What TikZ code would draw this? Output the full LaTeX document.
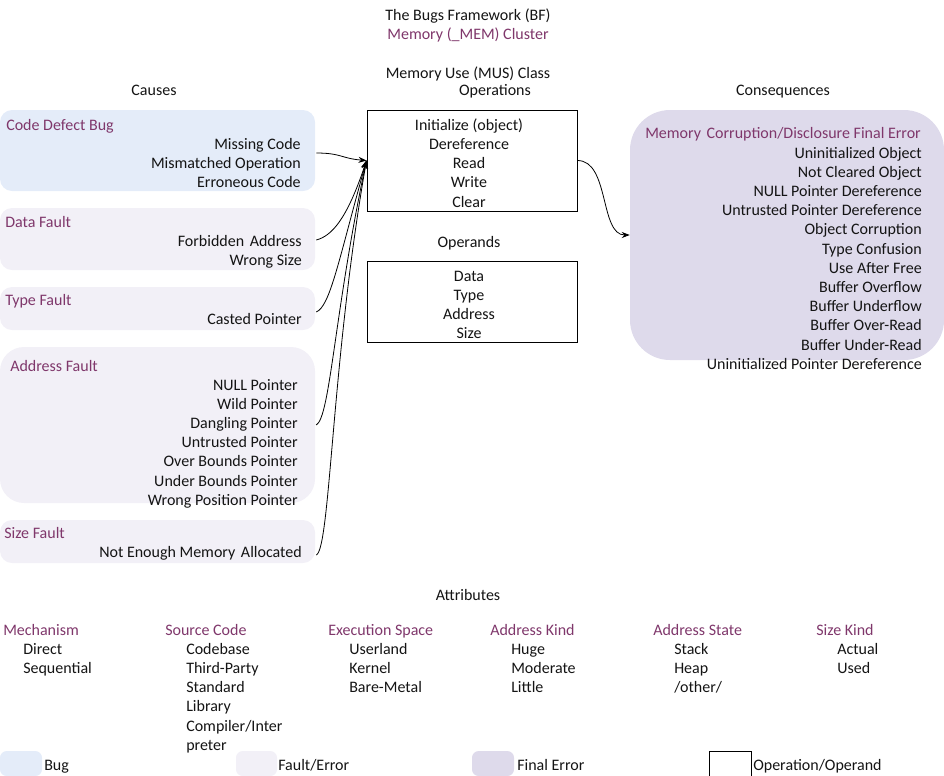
\documentclass[tikz,border=0pt]{standalone}
\usepackage{fontspec}
\setmainfont{Carlito}
\usetikzlibrary{arrows.meta,fit,calc}
\definecolor{bugfill}{RGB}{228,236,249}
\definecolor{faultfill}{RGB}{242,240,247}
\definecolor{finalfill}{RGB}{222,218,235}
\definecolor{plum}{RGB}{127,55,107}
\definecolor{ink}{RGB}{20,20,20}
\newcommand{\widegap}{\hspace{1.5pt} }
\begin{document}
\begin{tikzpicture}[x=0.75pt,y=-0.75pt,
  lbl/.style={inner sep=0pt, text=ink, font=\fontsize{12}{14.25}\selectfont},
  head/.style={lbl, text=plum},
  bugbox/.style={fill=bugfill, draw=none, inner sep=0pt, rounded corners=9pt},
  faultbox/.style={fill=faultfill, draw=none, inner sep=0pt, rounded corners=9pt},
  finalbox/.style={fill=finalfill, draw=none, inner sep=0pt, rounded corners=30pt},
  opbox/.style={draw=black, fill=white, inner sep=0pt, line width=0.75pt},
  link/.style={draw=black, line width=0.6pt, -{Stealth[length=6pt,width=4.5pt]}},
]
\useasboundingbox (0,0) rectangle (944,775);

% headings
\node[lbl, anchor=base] (title) at (468,20) {The Bugs Framework (BF)};
\node[head, anchor=base] (cluster) at (468,39) {Memory (\_MEM) Cluster};
\node[lbl, anchor=base] (class) at (468,78) {Memory Use (MUS) Class};
\node[lbl, anchor=base] (opshead) at (495,95) {Operations};
\node[lbl, anchor=base] (causes) at (154,95) {Causes};
\node[lbl, anchor=base] (conshead) at (783,95) {Consequences};

% causes
\node[bugbox, fit={(0,110) (315,191)}] (cd) {};
\node[head, anchor=base west] (cdh) at (6,130) {Code Defect Bug};
\foreach \t [count=\i] in {Missing Code, Mismatched Operation, Erroneous Code}
  \node[lbl, anchor=base east] (cd\i) at (301,{149+19.3*(\i-1)}) {\t};

\node[faultbox, fit={(0,208) (315,270)}] (df) {};
\node[head, anchor=base west] (dfh) at (5,227) {Data Fault};
\foreach \t [count=\i] in {Forbidden\widegap Address, Wrong Size}
  \node[lbl, anchor=base east] (df\i) at (302,{246+19.3*(\i-1)}) {\t};

\node[faultbox, fit={(0,287) (315,330)}] (tf) {};
\node[head, anchor=base west] (tfh) at (5,305) {Type Fault};
\node[lbl, anchor=base east] (tf1) at (302,324) {Casted Pointer};

\node[faultbox, rounded corners=18pt, fit={(0,347) (315,503)}] (af) {};
\node[head, anchor=base west] (afh) at (10,371) {Address Fault};
\foreach \t [count=\i] in {NULL Pointer, Wild Pointer, Dangling Pointer, Untrusted Pointer,
    Over Bounds Pointer, Under Bounds Pointer, Wrong Position Pointer}
  \node[lbl, anchor=base east] (af\i) at (298,{390+19.2*(\i-1)}) {\t};

\node[faultbox, fit={(0,520) (315,563)}] (sf) {};
\node[head, anchor=base west] (sfh) at (4,538) {Size Fault};
\node[lbl, anchor=base east] (sf1) at (302,557) {Not Enough Memory\widegap Allocated};

% operations and operands
\node[opbox, fit={(367,110) (577,211)}] (ops) {};
\foreach \t [count=\i] in {Initialize (object), Dereference, Read, Write, Clear}
  \node[lbl, anchor=base] (op\i) at (469,{130+19.3*(\i-1)}) {\t};
\node[lbl, anchor=base] (opdhead) at (469,247) {Operands};
\node[opbox, fit={(367,261) (577,342)}] (opd) {};
\foreach \t [count=\i] in {Data, Type, Address, Size}
  \node[lbl, anchor=base] (opd\i) at (469,{281+19.3*(\i-1)}) {\t};

% consequences
\node[finalbox, fit={(630,110) (944,360)}] (cons) {};
\node[head, anchor=base west] (consh) at (645,138) {Memory\widegap Corruption/Disclosure Final Error};
\foreach \t [count=\i] in {Uninitialized Object, Not Cleared Object, NULL Pointer Dereference,
    Untrusted Pointer Dereference, Object Corruption, Type Confusion, Use After Free,
    Buffer Overflow, Buffer Underflow, Buffer Over-Read, Buffer Under-Read,
    Uninitialized Pointer Dereference}
  \node[lbl, anchor=base east] (cs\i) at (922,{158+19.2*(\i-1)}) {\t};

% connectors
\draw[link] ($(cd.east)+(1,2.5)$) .. controls +(25,0) and +(-25,-2) .. (ops.west);
\draw[link] ($(df.east)+(1,1)$) .. controls +(15,-4) and +(-20,60) .. (ops.west);
\draw[link] ($(tf.east)+(1,3.5)$) .. controls +(14,-6) and +(-28,100) .. (ops.west);
\draw[link] ($(af.east)+(1,0)$) .. controls +(14,-8) and +(-32,150) .. (ops.west);
\draw[link] ($(sf.east)+(1,13.5)$) .. controls +(14,-6) and +(-35,200) .. (ops.west);
\draw[link] (ops.east) .. controls +(32,0) and +(-30,0) .. (cons.west);

% attributes
\node[lbl, anchor=base] (attrs) at (468,600) {Attributes};
\node[head, anchor=base west] (a1h) at (3,635) {Mechanism};
\foreach \t [count=\i] in {Direct, Sequential}
  \node[lbl, anchor=base west] (a1\i) at (23,{654+19.3*(\i-1)}) {\t};
\node[head, anchor=base west] (a2h) at (165,635) {Source Code};
\foreach \t [count=\i] in {Codebase, Third-Party, Standard, Library, Compiler/Inter, preter}
  \node[lbl, anchor=base west] (a2\i) at (186,{654+19.3*(\i-1)}) {\t};
\node[head, anchor=base west] (a3h) at (328,635) {Execution Space};
\foreach \t [count=\i] in {Userland, Kernel, Bare-Metal}
  \node[lbl, anchor=base west] (a3\i) at (349,{654+19.3*(\i-1)}) {\t};
\node[head, anchor=base west] (a4h) at (490,635) {Address Kind};
\foreach \t [count=\i] in {Huge, Moderate, Little}
  \node[lbl, anchor=base west] (a4\i) at (511,{654+19.3*(\i-1)}) {\t};
\node[head, anchor=base west] (a5h) at (653,635) {Address State};
\foreach \t [count=\i] in {Stack, Heap, /other/}
  \node[lbl, anchor=base west] (a5\i) at (674,{654+19.3*(\i-1)}) {\t};
\node[head, anchor=base west] (a6h) at (816,635) {Size Kind};
\foreach \t [count=\i] in {Actual, Used}
  \node[lbl, anchor=base west] (a6\i) at (837,{654+19.3*(\i-1)}) {\t};

% legend
\node[bugbox, rounded corners=5pt, fit={(0,751) (42,776)}] (lg1) {};
\node[lbl, anchor=base west] (lg1t) at (44,770) {Bug};
\node[faultbox, rounded corners=5pt, fit={(236,751) (277,776)}] (lg2) {};
\node[lbl, anchor=base west] (lg2t) at (278,770) {Fault/Error};
\node[finalbox, rounded corners=5pt, fit={(472,751) (514,776)}] (lg3) {};
\node[lbl, anchor=base west] (lg3t) at (517,770) {Final Error};
\node[opbox, fit={(709,751) (751,776)}] (lg4) {};
\node[lbl, anchor=base west] (lg4t) at (753,770) {Operation/Operand};
\end{tikzpicture}
\end{document}
